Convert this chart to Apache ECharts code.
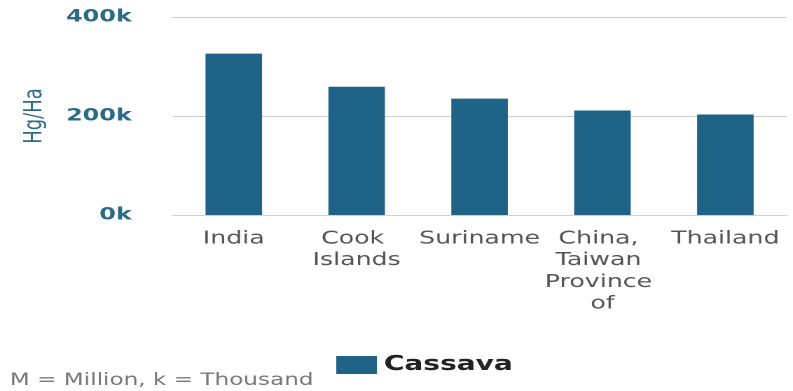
<!DOCTYPE html>
<html>
<head>
<meta charset="utf-8">
<script src="https://cdn.jsdelivr.net/npm/echarts@6/dist/echarts.min.js"></script>
<style>
  html, body { margin: 0; padding: 0; background: #fff; overflow: hidden; }
  /* source picture is stretched sideways, so draw narrow and widen it */
  #chart { width: 566px; height: 391px; transform: scaleX(1.401); transform-origin: 0 0; }
</style>
</head>
<body>
<div id="chart"></div>
<script>
var categories = ['India', 'Cook Islands', 'Suriname', 'China, Taiwan Province of', 'Thailand'];
var cassava = [326000, 259000, 235000, 211000, 203000];
var yTicks = [0, 200000, 400000];

var chart = echarts.init(document.getElementById('chart'), null, { devicePixelRatio: 2 });
chart.setOption({
    animation: false,
    textStyle: { fontFamily: 'DejaVu Sans' },
    grid: { left: 123, right: -3, top: 17, bottom: 176 },
    legend: {
        data: ['Cassava'],
        left: 235,
        top: 350,
        itemWidth: 29,
        itemHeight: 18,
        itemGap: 10,
        icon: 'rect',
        textStyle: { fontSize: 20, fontWeight: 'bold', color: '#222', fontFamily: 'DejaVu Sans' }
    },
    graphic: [{
        type: 'text',
        left: 7,
        top: 372,
        style: { text: 'M = Million, k = Thousand', fontSize: 16.5, fill: '#777', fontFamily: 'DejaVu Sans' }
    }],
    xAxis: {
        type: 'category',
        data: categories,
        axisLine: { lineStyle: { color: '#c9d3de', width: 1 } },
        axisTick: { length: 13, lineStyle: { color: '#c9d3de' } },
        axisLabel: {
            interval: 0,
            margin: 13,
            fontSize: 18,
            color: '#555',
            lineHeight: 21.7,
            width: 92,
            overflow: 'break'
        }
    },
    yAxis: {
        type: 'value',
        min: yTicks[0],
        max: yTicks[yTicks.length - 1],
        interval: yTicks[1] - yTicks[0],
        name: 'Hg/Ha',
        nameLocation: 'middle',
        nameGap: 89,
        nameTextStyle: { fontSize: 18, color: '#2c6b87' },
        axisLine: { show: false },
        axisTick: { show: false },
        splitLine: { lineStyle: { color: '#cccccc' } },
        axisLabel: {
            margin: 29,
            fontSize: 17,
            fontWeight: 'bold',
            color: '#2c6b87',
            formatter: function (v) { return (v / 1000) + 'k'; }
        }
    },
    series: [{
        name: 'Cassava',
        type: 'bar',
        data: cassava,
        barWidth: '46%',
        itemStyle: { color: '#1f6386' }
    }]
});
</script>
</body>
</html>
